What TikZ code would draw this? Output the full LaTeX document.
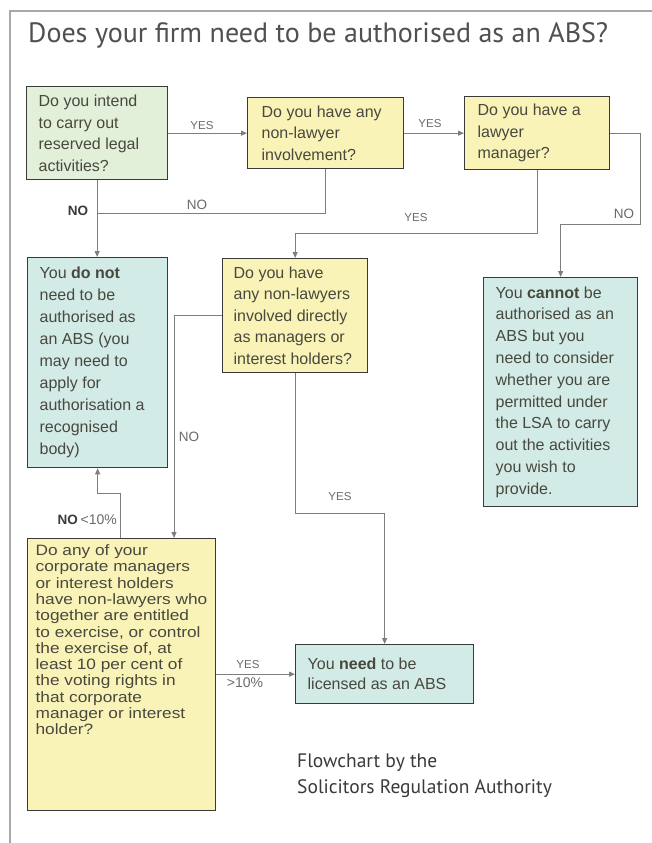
\documentclass[tikz,border=0pt]{standalone}
\usepackage{fontspec}
\setmainfont{Liberation Sans}
\newfontfamily\ptsans{PT Sans}
\newfontfamily\gfont[FakeStretch=1.15]{Liberation Sans}
\usetikzlibrary{arrows.meta}
\definecolor{greenc}{HTML}{E2EFD9}
\definecolor{yellowc}{HTML}{FAF3B8}
\definecolor{tealc}{HTML}{D3EBE6}
\definecolor{bordc}{HTML}{3A3A3A}
\definecolor{txtc}{HTML}{48483F}
\definecolor{connc}{HTML}{7E7E7E}
\definecolor{lblc}{HTML}{6A6A6A}
\definecolor{framec}{HTML}{A8A8A8}
\definecolor{titlec}{HTML}{505050}
\newcommand{\boxtxt}[4]{\parbox[c][#2pt][#3]{#1pt}{\raggedright #4}}
\begin{document}
\begin{tikzpicture}[x=1pt,y=-1pt,
  qbox/.style={draw=bordc, line width=1.3pt, inner ysep=0pt, anchor=north west,
    text=txtc, font=\fontsize{16}{21.6}\selectfont},
  conn/.style={draw=connc, line width=1pt, -{Triangle[length=6pt,width=5pt]}},
  plainline/.style={draw=connc, line width=1pt},
  lbl/.style={text=lblc, font=\fontsize{11.5}{13}\selectfont, inner sep=1pt},
  lblno/.style={text=lblc, font=\fontsize{13.5}{15}\selectfont, inner sep=1pt},
  lblbold/.style={text=bordc, font=\bfseries\fontsize{13.5}{15}\selectfont, inner sep=1pt}]
\useasboundingbox (0,0) rectangle (652,843);
\fill[white] (0,0) rectangle (652,843);
% frame
\draw[framec, line width=1.2pt] (652,11) -- (10,11) -- (10,843);
% title
\node[anchor=base west, inner sep=0pt, text=titlec, font=\ptsans\fontsize{28}{30}\selectfont] (title) at (28,43) {Does your firm need to be authorised as an ABS?};
% boxes
\node[qbox, fill=greenc, inner xsep=12pt] (A) at (26,86)
  {\boxtxt{117}{93}{c}{Do you intend\\to carry out\\reserved legal\\activities?}};
\node[qbox, fill=yellowc, inner xsep=14pt] (B) at (247,97)
  {\boxtxt{128}{71}{c}{Do you have any\\non-lawyer\\involvement?}};
\node[qbox, fill=yellowc, inner xsep=13pt] (C) at (464,96)
  {\boxtxt{119}{73}{c}{Do you have a\\lawyer\\manager?}};
\node[qbox, fill=tealc, inner xsep=12pt, font=\fontsize{16}{22}\selectfont] (D) at (27,257)
  {\boxtxt{116}{210}{c}{You \textbf{do not}\\need to be\\authorised as\\an ABS (you\\may need to\\apply for\\authorisation a\\recognised\\body)}};
\node[qbox, fill=yellowc, inner xsep=11pt] (E) at (222,258)
  {\boxtxt{123}{114}{c}{Do you have\\any non-lawyers\\involved directly\\as managers or\\interest holders?}};
\node[qbox, fill=tealc, inner xsep=12pt, font=\fontsize{16}{21.8}\selectfont] (F) at (483,277)
  {\boxtxt{130}{229}{c}{You \textbf{cannot} be\\authorised as an\\ABS but you\\need to consider\\whether you are\\permitted under\\the LSA to carry\\out the activities\\you wish to\\provide.}};
\node[qbox, fill=yellowc, inner xsep=8pt, font=\gfont\fontsize{15}{16.3}\selectfont] (G) at (27,538)
  {\boxtxt{172}{272}{t}{\vspace*{6pt}Do any of your\\corporate managers\\or interest holders\\have non-lawyers who\\together are entitled\\to exercise, or control\\the exercise of, at\\least 10 per cent of\\the voting rights in\\that corporate\\manager or interest\\holder?}};
\node[qbox, fill=tealc, inner xsep=12pt, font=\fontsize{16}{20}\selectfont] (H) at (295,644)
  {\boxtxt{154}{59}{c}{You \textbf{need} to be\\licensed as an ABS}};
% connectors
\coordinate (j1) at (96.5,213);
\draw[conn] (A.east) -- (B.west);
\draw[conn] (B.east) -- (C.west);
\draw[conn] (A.south) -- (A.south |- D.north);
\draw[plainline] (B.south) |- (j1);
\draw[conn] (C.south) -- ++(0,63) -| (E.north);
\draw[conn] (C.east) -- ++(30,0) -- ++(0,91) -| (F.north);
\draw[conn] (E.west) -| ([xshift=147pt]G.north west);
\draw[conn] (E.south) -- ++(0,140) -| (H.north);
\draw[conn] ([xshift=93pt]G.north west) -- ++(0,-45) -| (D.south);
\draw[conn] (G.east |- H.west) -- (H.west);
% labels
\node[lbl] (l1) at (202,126) {YES};
\node[lbl] (l2) at (430,124) {YES};
\node[lblno] (l3) at (197,205) {NO};
\node[lblbold] (l4) at (78,211) {NO};
\node[lbl] (l5) at (416,218) {YES};
\node[lblno] (l6) at (624,214) {NO};
\node[lblno] (l7) at (189,437) {NO};
\node[lbl] (l8) at (340,497) {YES};
\node[anchor=east, inner sep=1pt] (l9) at (118,520) {\textcolor{bordc}{\bfseries\fontsize{13.5}{15}\selectfont NO} \textcolor{lblc}{\fontsize{14}{15}\selectfont <10\%}};
\node[lbl] (l10) at (248,665) {YES};
\node[lbl, font=\fontsize{14}{15}\selectfont] (l11) at (245,683) {>10\%};
% caption
\node[anchor=base west, inner sep=0pt, text=bordc, font=\ptsans\fontsize{19.5}{24}\selectfont] (cap1) at (297,767) {Flowchart by the};
\node[anchor=base west, inner sep=0pt, text=bordc, font=\ptsans\fontsize{19.5}{24}\selectfont] (cap2) at (297,793) {Solicitors Regulation Authority};
\end{tikzpicture}
\end{document}
